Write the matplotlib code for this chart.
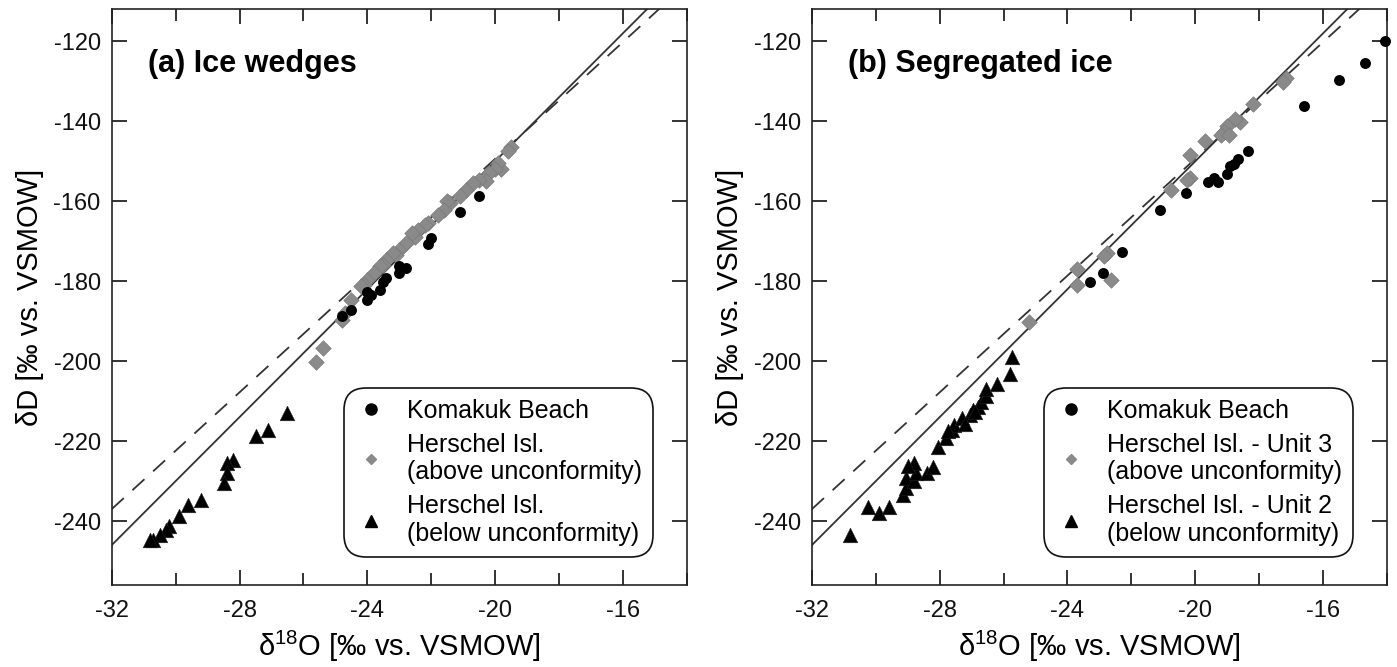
import numpy as np
import matplotlib
matplotlib.use("Agg")
import matplotlib.pyplot as plt
from matplotlib.ticker import MultipleLocator
from matplotlib.lines import Line2D

plt.rcParams['font.family'] = ['Liberation Sans', 'DejaVu Sans']
plt.rcParams['mathtext.default'] = 'regular'
plt.rcParams['axes.unicode_minus'] = False

# ---- data ----
# (a) ice wedges
a_kom_x = [-20.5, -21.1, -22.0, -22.1, -22.8, -23.0, -23.0, -23.4, -23.5, -23.6,
           -23.9, -24.0, -24.0, -24.5, -24.8]
a_kom_y = [-158.8, -162.8, -169.3, -170.8, -176.8, -176.3, -178.0, -179.3, -180.1, -182.2,
           -183.4, -184.7, -182.6, -187.2, -188.8]
a_above_x = [-19.5, -19.6, -19.8, -19.9, -20.0, -20.2, -20.3, -20.5, -20.7, -20.9,
             -21.1, -21.4, -21.5, -21.6, -21.8, -22.1, -22.2, -22.4, -22.5, -22.6,
             -22.8, -23.0, -23.1, -23.2, -23.4, -23.5, -23.6, -23.8, -24.0, -24.1,
             -24.2, -24.5, -24.7, -24.8, -25.4, -25.6]
a_above_y = [-146.5, -147.5, -152.0, -150.5, -152.0, -153.0, -155.0, -154.7, -155.5, -157.2,
             -158.8, -160.5, -160.0, -162.2, -163.4, -165.5, -166.0, -167.2, -169.0, -168.0,
             -170.5, -172.2, -173.5, -173.0, -174.7, -176.0, -176.3, -178.0, -179.7, -181.0,
             -181.3, -184.7, -188.0, -189.7, -196.8, -200.3]
a_below_x = [-26.5, -27.1, -27.5, -28.2, -28.4, -28.4, -28.5, -29.2, -29.6, -29.9,
             -30.2, -30.3, -30.5, -30.7, -30.8]
a_below_y = [-213.0, -217.2, -218.7, -224.7, -225.5, -228.0, -230.5, -234.8, -236.1, -238.7,
             -241.3, -242.3, -243.4, -244.7, -244.8]

# (b) segregated ice
b_kom_x = [-14.05, -14.7, -15.5, -16.6, -18.35, -18.65, -18.8, -18.9, -19.0, -19.3,
           -19.4, -19.6, -20.3, -21.1, -22.3, -22.9, -23.3]
b_kom_y = [-120.0, -125.5, -129.7, -136.2, -147.4, -149.5, -150.8, -151.3, -153.2, -155.1,
           -154.3, -155.1, -158.0, -162.3, -172.8, -178.0, -180.1]
b_above_x = [-17.15, -17.25, -18.2, -18.6, -18.75, -19.0, -19.1, -19.2, -18.95, -19.7,
             -20.15, -20.15, -20.25, -20.75, -22.75, -22.85, -23.7, -23.7, -22.65, -25.2]
b_above_y = [-129.2, -130.1, -135.8, -140.1, -139.4, -141.2, -142.6, -143.4, -143.4, -144.9,
             -148.4, -154.2, -154.7, -157.2, -173.0, -173.8, -177.0, -180.9, -179.7, -190.3]
b_below_x = [-30.8, -30.25, -29.9, -29.6, -29.15, -29.05, -29.05, -28.8, -28.75, -28.8,
             -28.4, -28.2, -28.05, -27.8, -27.6, -27.55, -27.3, -27.05, -26.95, -26.8,
             -26.7, -26.55, -26.55, -26.2, -25.8, -25.75, -27.2, -26.9, -27.75, -29.0]
b_below_y = [-243.4, -236.5, -238.0, -236.5, -233.4, -231.8, -229.3, -230.1, -228.0, -225.5,
             -228.0, -226.4, -221.4, -219.3, -217.2, -216.0, -214.3, -213.5, -212.2, -211.4,
             -210.1, -208.8, -207.0, -205.8, -203.3, -199.0, -215.6, -212.8, -217.5, -226.2]

# meteoric water lines: (slope, intercept)
gmwl = (8.0, 10.0)
lmwl = (7.3, -3.4)

titles = ['(a) Ice wedges', '(b) Segregated ice']
legend_labels = [
    ['Komakuk Beach', 'Herschel Isl.\n(above unconformity)', 'Herschel Isl.\n(below unconformity)'],
    ['Komakuk Beach', 'Herschel Isl. - Unit 3\n(above unconformity)', 'Herschel Isl. - Unit 2\n(below unconformity)'],
]
panels = [
    (a_kom_x, a_kom_y, a_above_x, a_above_y, a_below_x, a_below_y),
    (b_kom_x, b_kom_y, b_above_x, b_above_y, b_below_x, b_below_y),
]

gray = '#8a8a8a'
fig = plt.figure(figsize=(13.97, 6.67), dpi=100)
axes = [fig.add_axes([0.0800, 0.1229, 0.4116, 0.8631]),
        fig.add_axes([0.5812, 0.1229, 0.4116, 0.8631])]

xl = np.array([-32.0, -14.0])
for i, ax in enumerate(axes):
    kx, ky, ax_, ay_, bx_, by_ = panels[i]
    ax.plot(xl, gmwl[0] * xl + gmwl[1], color='#333333', lw=1.3, zorder=1)
    ax.plot(xl, lmwl[0] * xl + lmwl[1], color='#333333', lw=1.3, dashes=(9, 6.5), zorder=1)
    ax.scatter(ax_, ay_, marker='D', s=62, color=gray, edgecolor='#7a7a7a', lw=0.5, zorder=2, clip_on=False)
    ax.scatter(kx, ky, marker='o', s=62, color='black', lw=0, zorder=3, clip_on=False)
    ax.scatter(bx_, by_, marker='^', s=110, color='black', edgecolor='#222222', lw=0.4, zorder=3, clip_on=False)

    ax.set_xlim(-32, -14)
    ax.set_ylim(-256, -112)
    ax.xaxis.set_major_locator(MultipleLocator(4))
    ax.xaxis.set_minor_locator(MultipleLocator(2))
    ax.yaxis.set_major_locator(MultipleLocator(20))
    ax.tick_params(which='both', direction='in', top=True, right=True, width=1.2,
                   labelsize=17, colors='#111111')
    ax.tick_params(axis='x', which='major', length=10.5, pad=11)
    ax.tick_params(axis='x', which='minor', length=8.5)
    ax.tick_params(axis='y', which='major', length=10.5, pad=8)
    for sp in ax.spines.values():
        sp.set_linewidth(1.2)
        sp.set_color('#222222')

    ax.set_xlabel('δ$^{18}$O [‰ vs. VSMOW]', fontsize=21, labelpad=5)
    ax.set_ylabel('δD [‰ vs. VSMOW]', fontsize=21, labelpad=7)
    ax.text(0.063, 0.905, titles[i], transform=ax.transAxes, fontsize=22,
            fontweight='bold', va='center', ha='left')

    handles = [
        Line2D([], [], ls='', marker='o', ms=8, color='black'),
        Line2D([], [], ls='', marker='D', ms=5.5, color=gray),
        Line2D([], [], ls='', marker='^', ms=8, color='black'),
    ]
    leg = ax.legend(handles, legend_labels[i], loc='lower right',
                    bbox_to_anchor=(0.9414, 0.0486), borderaxespad=0,
                    fontsize=18, borderpad=0.45, labelspacing=0.38,
                    handlelength=1.3, handletextpad=0.78, frameon=True,
                    fancybox=True, framealpha=1, edgecolor='#111111')
    fr = leg.get_frame()
    fr.set_linewidth(1.2)
    fr.set_boxstyle('round,pad=0,rounding_size=0.9')

fig.savefig('out.png', dpi=100)
